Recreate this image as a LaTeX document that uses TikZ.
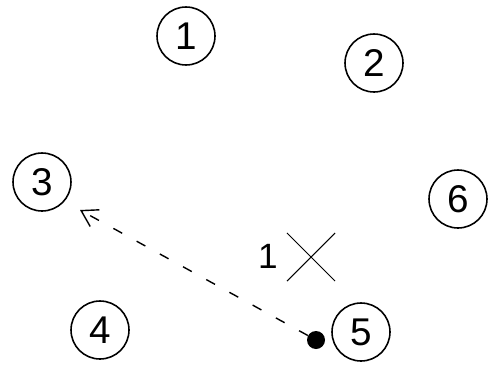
\documentclass[tikz,border=0pt]{standalone}
\usepackage{fontspec}
\setmainfont{Liberation Sans}
\usetikzlibrary{arrows.meta}
\usetikzlibrary{shapes.misc}

\begin{document}
\begin{tikzpicture}[x=0.02cm, y=-0.02cm, >={Straight Barb[length=0.31cm, width=0.38cm]},
  spot/.style={circle, draw, line width=0.9pt, minimum size=1.16cm, inner sep=0pt, font=\fontsize{22}{26}\selectfont},
  tag/.style={font=\fontsize{20}{24}\selectfont, inner sep=0pt}]
  \useasboundingbox (0, 0) rectangle (496, 365);

  % numbered positions
  \node[spot] (c1) at (186, 36) {1};
  \node[spot] (c2) at (374, 63) {2};
  \node[spot] (c3) at (42, 182) {3};
  \node[spot] (c4) at (100, 330) {4};
  \node[spot] (c5) at (361, 332) {5};
  \node[spot] (c6) at (458, 199) {6};

  % target
  \node[cross out, draw, line width=0.6pt, minimum size=0.94cm, inner sep=0pt] (X) at (311, 257) {};
  \node[tag] (n1) at (268, 256) {1};

  % moving point
  \node[circle, fill, inner sep=0pt, minimum size=0.36cm] (dot) at (316, 340) {};
  \coordinate (tip) at (80, 210);
  \draw[->, line width=0.8pt, dash pattern=on 0.2cm off 0.33cm] (dot) -- (tip);
\end{tikzpicture}
\end{document}
